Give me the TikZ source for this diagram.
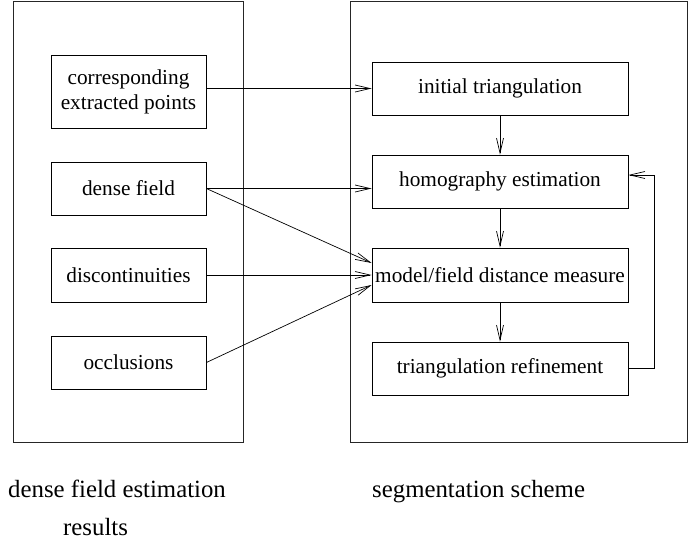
\documentclass[tikz,border=0pt]{standalone}
\usepackage{fontspec}
\setmainfont{Liberation Serif}
\usetikzlibrary{arrows.meta}
\begin{document}
\begin{tikzpicture}[x=1pt,y=-1pt,
  outerbox/.style={draw=black!85,line width=0.9pt,rectangle,inner sep=0pt},
  stepbox/.style={draw,line width=0.8pt,rectangle,inner sep=0pt,align=center,
    font=\fontsize{21.3}{25}\selectfont},
  leftbox/.style={stepbox,minimum width=155pt},
  rightbox/.style={stepbox,minimum width=256pt,minimum height=53pt},
  arr/.style={line width=0.7pt,-{Straight Barb[length=15pt,width=7pt,line width=0.7pt]}},
  caption/.style={inner sep=0pt,anchor=base west,font=\fontsize{24.8}{28}\selectfont}]
\useasboundingbox (0,0) rectangle (700,539);

% outer frames
\node[outerbox,minimum width=230pt,minimum height=441pt] (leftframe) at (128,221.5) {};
\node[outerbox,minimum width=337pt,minimum height=441pt] (rightframe) at (518.5,221.5) {};

% left boxes
\node[leftbox,minimum height=73pt] (corr) at (128.5,91.5) {corresponding\\extracted points};
\node[leftbox,minimum height=53pt] (dense) at (128.5,188.5) {dense field};
\node[leftbox,minimum height=54pt] (disc) at (128.5,275) {discontinuities};
\node[leftbox,minimum height=53pt] (occl) at (128.5,362.5) {occlusions};

% right boxes
\node[rightbox] (init) at (500,88.5) {initial triangulation};
\node[rightbox] (homog) at (500,181.5) {homography estimation};
\node[rightbox,minimum height=54pt] (model) at (500,275) {model/field distance measure};
\node[rightbox] (refine) at (500,368.5) {triangulation refinement};

% captions
\node[caption] (capA) at (8,497) {dense field estimation};
\node[caption] (capB) at (63,535) {results};
\node[caption] (capC) at (372,497) {segmentation scheme};

% connectors
\draw[arr] (corr.east |- init.west) -- (init.west);
\draw[arr] (dense.east) -- (homog.west |- dense.east);
\draw[arr] (dense.east) -- ([yshift=12pt]model.west);
\draw[arr] (disc.east) -- (model.west);
\draw[arr] (occl.east) -- ([yshift=-10pt]model.west);
\draw[arr] (init.south) -- (homog.north);
\draw[arr] (homog.south) -- (model.north);
\draw[arr] (model.south) -- (refine.north);
\draw[arr] (refine.east) -- ++(26,0) |- ([yshift=6.5pt]homog.east);
\end{tikzpicture}
\end{document}
